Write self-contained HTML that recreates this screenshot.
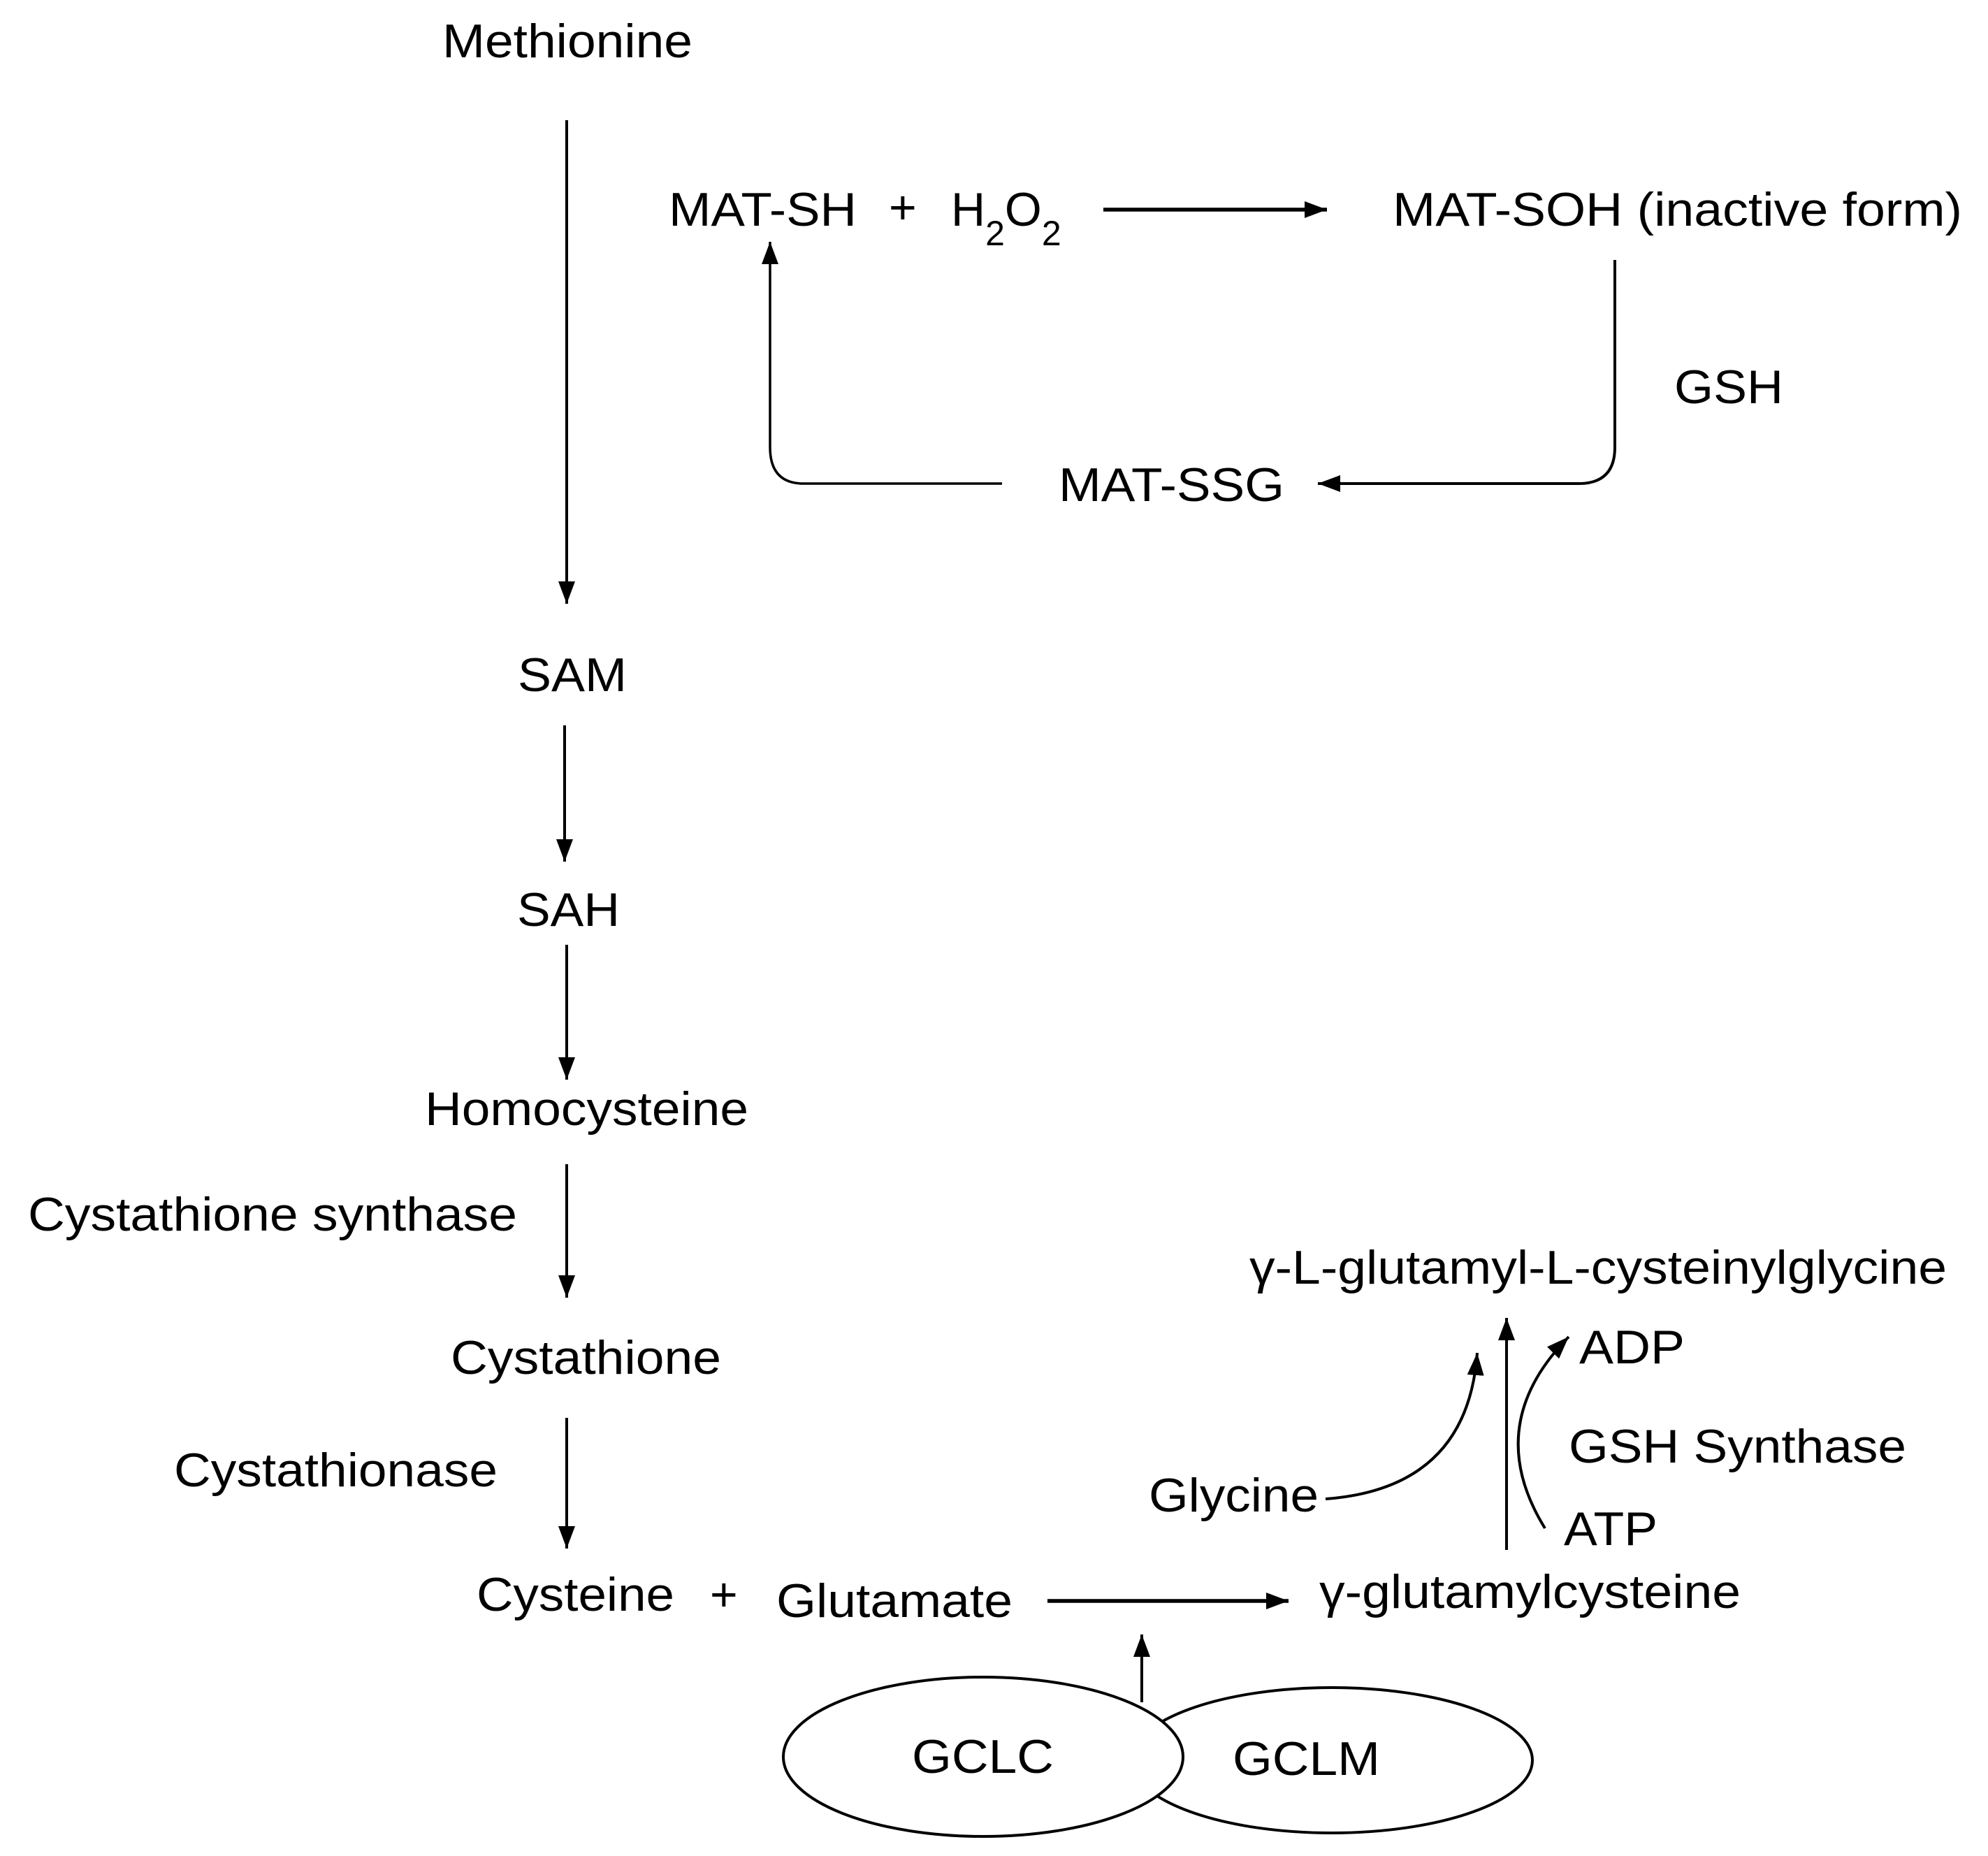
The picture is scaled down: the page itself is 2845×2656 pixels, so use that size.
<!DOCTYPE html>
<html><head><meta charset="utf-8"><style>html,body{margin:0;padding:0;background:#fff}</style></head><body>
<svg width="2845" height="2651" viewBox="0 0 2845 2651" xmlns="http://www.w3.org/2000/svg" font-family="Liberation Sans, Arial, sans-serif" font-size="68" fill="#000">
<defs>
<marker id="b" viewBox="0 0 10 10" refX="10" refY="5" markerWidth="32" markerHeight="24" markerUnits="userSpaceOnUse" orient="auto" preserveAspectRatio="none"><path d="M0,0 L10,5 L0,10 z"/></marker>
</defs>
<g stroke="#000" stroke-width="4" fill="none">
<line x1="811" y1="172" x2="811" y2="864" marker-end="url(#b)"/>
<line x1="808" y1="1038" x2="808" y2="1233" marker-end="url(#b)"/>
<line x1="811" y1="1352" x2="811" y2="1545" marker-end="url(#b)"/>
<line x1="811" y1="1666" x2="811" y2="1857" marker-end="url(#b)"/>
<line x1="811" y1="2029" x2="811" y2="2216" marker-end="url(#b)"/>
<line x1="1499" y1="2291" x2="1844" y2="2291" stroke-width="5.5" marker-end="url(#b)"/>
<line x1="1634" y1="2436" x2="1634" y2="2339" marker-end="url(#b)"/>
<line x1="1579" y1="300" x2="1899" y2="300" stroke-width="5.5" marker-end="url(#b)"/>
<path d="M2311,372 L2311,640 Q2311,692 2259,692 L1886,692" marker-end="url(#b)"/>
<path d="M1434,692 L1150,692 Q1102,692 1102,640 L1102,346" stroke-width="3.5" marker-end="url(#b)"/>
<line x1="2156" y1="2218" x2="2156" y2="1886" marker-end="url(#b)"/>
<path d="M1897,2145 Q2100,2130 2114,1936" marker-end="url(#b)"/>
<path d="M2211,2187 Q2120,2040 2245,1913" marker-end="url(#b)"/>
<ellipse cx="1906" cy="2519" rx="287" ry="104"/>
<ellipse cx="1407" cy="2514" rx="286" ry="114" fill="#fff"/>
</g>
<g stroke="none">
<text x="633" y="82" textLength="358" lengthAdjust="spacingAndGlyphs">Methionine</text>
<text x="741" y="989" textLength="156" lengthAdjust="spacingAndGlyphs">SAM</text>
<text x="740" y="1325" textLength="147" lengthAdjust="spacingAndGlyphs">SAH</text>
<text x="608" y="1610" textLength="463" lengthAdjust="spacingAndGlyphs">Homocysteine</text>
<text x="40" y="1761" textLength="700" lengthAdjust="spacingAndGlyphs">Cystathione synthase</text>
<text x="645" y="1966" textLength="387" lengthAdjust="spacingAndGlyphs">Cystathione</text>
<text x="249" y="2127" textLength="463" lengthAdjust="spacingAndGlyphs">Cystathionase</text>
<text x="682" y="2305" textLength="283" lengthAdjust="spacingAndGlyphs">Cysteine</text>
<text x="1016" y="2305">+</text>
<text x="1111" y="2314" textLength="338" lengthAdjust="spacingAndGlyphs">Glutamate</text>
<text x="1888" y="2301" textLength="603" lengthAdjust="spacingAndGlyphs">γ-glutamylcysteine</text>
<text x="1305" y="2537" textLength="203" lengthAdjust="spacingAndGlyphs">GCLC</text>
<text x="1764" y="2540" textLength="211" lengthAdjust="spacingAndGlyphs">GCLM</text>
<text x="1644" y="2163" textLength="243" lengthAdjust="spacingAndGlyphs">Glycine</text>
<text x="2260" y="1951" textLength="151" lengthAdjust="spacingAndGlyphs">ADP</text>
<text x="2238" y="2211" textLength="134" lengthAdjust="spacingAndGlyphs">ATP</text>
<text x="2245" y="2093" textLength="483" lengthAdjust="spacingAndGlyphs">GSH Synthase</text>
<text x="1788" y="1837" textLength="998" lengthAdjust="spacingAndGlyphs">γ-L-glutamyl-L-cysteinylglycine</text>
<text x="957" y="323" textLength="269" lengthAdjust="spacingAndGlyphs">MAT-SH</text>
<text x="1272" y="320">+</text>
<text x="1361" y="323">H<tspan font-size="50" dy="28">2</tspan><tspan dy="-28">O</tspan><tspan font-size="50" dy="28">2</tspan></text>
<text x="1993" y="323" textLength="815" lengthAdjust="spacingAndGlyphs">MAT-SOH (inactive form)</text>
<text x="1515" y="717" textLength="323" lengthAdjust="spacingAndGlyphs">MAT-SSG</text>
<text x="2396" y="577" textLength="156" lengthAdjust="spacingAndGlyphs">GSH</text>
</g>
</svg>
</body></html>
